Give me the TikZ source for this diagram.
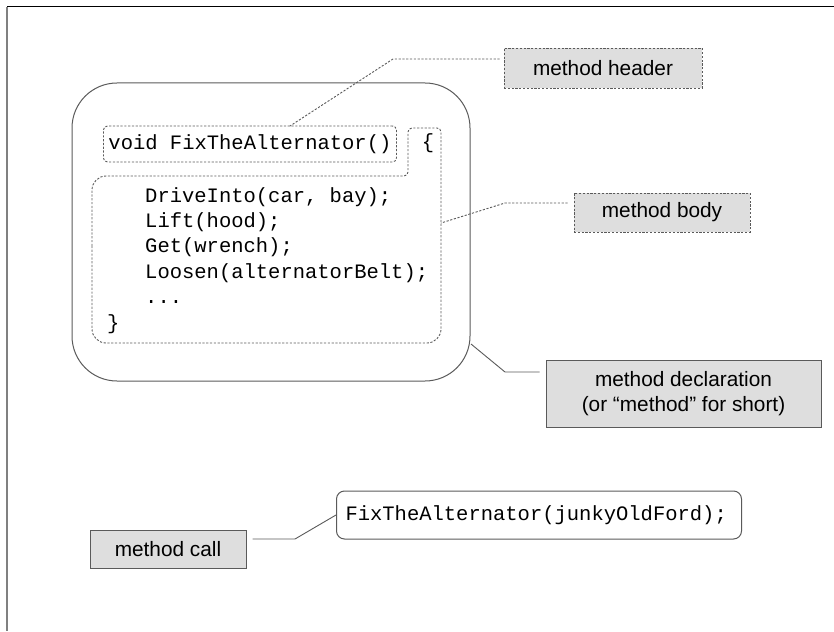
\documentclass[tikz,border=0pt]{standalone}
\usepackage{fontspec}
\newfontfamily\labelfont{Liberation Sans}
\newfontfamily\codefont{Liberation Mono}
\definecolor{boxfill}{HTML}{DEDEDE}
\definecolor{linegray}{HTML}{5A5A5A}

\begin{document}
\begin{tikzpicture}[x=1pt, y=-1pt,
    code/.style={font=\codefont\fontsize{20.5}{25.4}\selectfont, inner sep=0pt},
    label/.style={font=\labelfont\fontsize{20.8}{25}\selectfont, fill=boxfill, align=center, inner sep=0pt},
    dotline/.style={draw=linegray, dash pattern=on 2.2pt off 1.6pt, line width=0.9pt},
    leader/.style={draw=linegray, line width=0.9pt}]
  \useasboundingbox (0,0) rectangle (834,631);
  % frame
  \draw[black, line width=1pt] (7,7) -- (834,7);
  \draw[gray, line width=2pt] (7,7) -- (7,631);

  % method declaration
  \draw[linegray, line width=1pt, rounded corners=45pt] (72,83) rectangle (470,381);
  \node[code, dotline, rounded corners=4pt, minimum width=293pt, minimum height=36pt, anchor=west] (hdr) at (103,144) {void FixTheAlternator()};
  \node[code] (lbrace) at (428,143) {\{};
  \draw[dotline] (92,260) [rounded corners=14pt] -- (92,176) [rounded corners=4pt] -- (408,176) -- (408,128) -- (441,128) [rounded corners=14pt] -- (441,343) -- (92,343) -- cycle;
  \node[code, anchor=base west] (line0) at (145,202) {DriveInto(car, bay);};
  \node[code, anchor=base west] (line1) at (145,227.4) {Lift(hood);};
  \node[code, anchor=base west] (line2) at (145,252.8) {Get(wrench);};
  \node[code, anchor=base west] (line3) at (145,278.2) {Loosen(alternatorBelt);};
  \node[code, anchor=base west] (line4) at (145,303.6) {...};
  \node[code, anchor=base west] (rbrace) at (107,329) {\}};

  % labels
  \node[label, dotline, minimum width=198pt, minimum height=40pt] (mhead) at (603,68) {method header};
  \node[label, dotline, minimum width=176pt, minimum height=39pt] (mbody) at (662,212.5) {method body};
  \node[label, draw=linegray, line width=1pt, minimum width=275pt, minimum height=67pt] (mdecl) at (683.5,394) {method declaration\\(or “method” for short)};

  % method call
  \node[code, draw=linegray, line width=1pt, rounded corners=8pt, text width=387pt, align=left, inner xsep=9pt, minimum height=48pt, anchor=west] (call) at (336,515) {FixTheAlternator(junkyOldFord);};
  \node[label, draw=linegray, line width=1pt, minimum width=156pt, minimum height=38pt] (mcall) at (168,549) {method call};

  % leaders
  \coordinate (hbend) at (393,59);
  \coordinate (htip) at (290,126);
  \draw[dotline] (mhead.west |- hbend) ++(-4,0) -- (hbend) -- (htip);
  \coordinate (bbend) at (505,203);
  \coordinate (btip) at (441,223);
  \draw[dotline] (mbody.west |- bbend) ++(-6,0) -- (bbend) -- (btip);
  \coordinate (dbend) at (505,372);
  \coordinate (dtip) at (471,344);
  \draw[leader] (mdecl.west |- dbend) ++(-6,0) -- (dbend) -- (dtip);
  \coordinate (cbend) at (295,539);
  \draw[leader] (mcall.east |- cbend) ++(6,0) -- (cbend) -- (call.west);
\end{tikzpicture}
\end{document}
